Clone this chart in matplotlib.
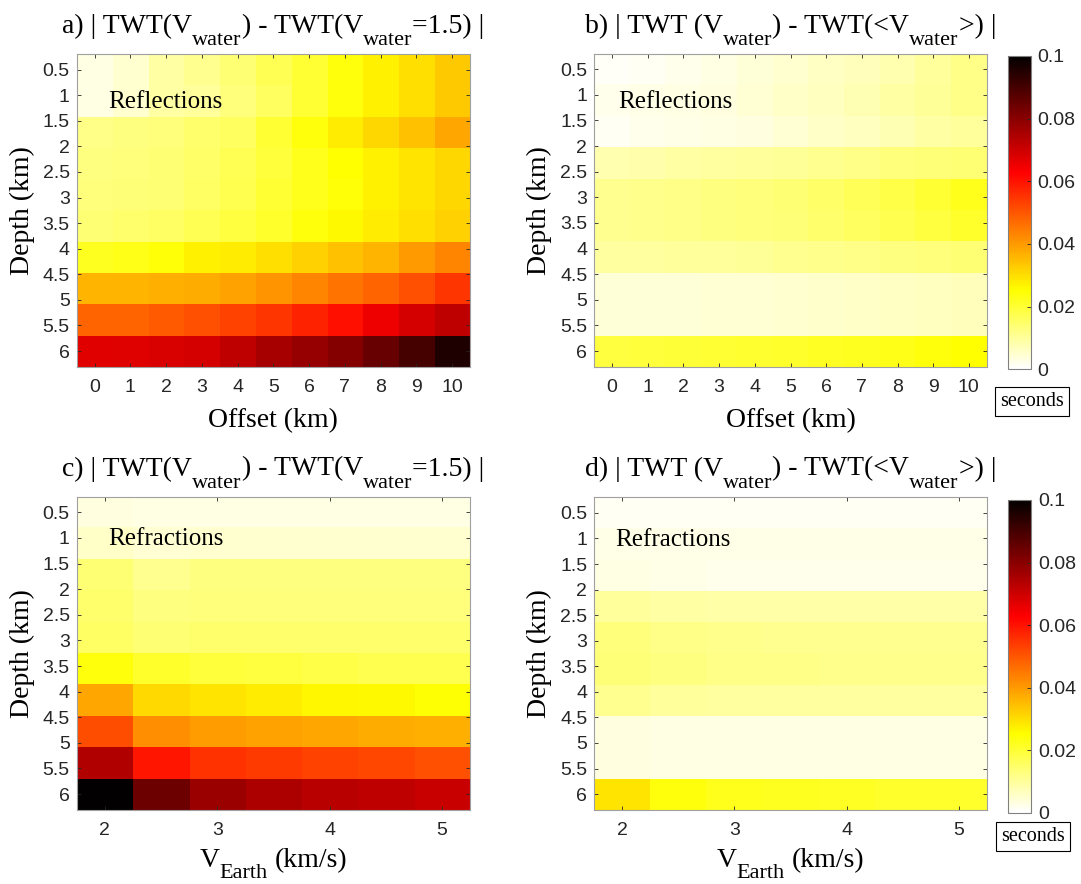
import numpy as np
import matplotlib
matplotlib.use("Agg")
import matplotlib.pyplot as plt
from matplotlib.colors import ListedColormap
from matplotlib.transforms import IdentityTransform

# ---------------- data ----------------
depth = [0.5, 1.1111, 1.7222, 2.3333, 2.9444, 3.5556, 4.1667, 4.7778, 5.3889, 6.0]
offset = [0, 1, 2, 3, 4, 5, 6, 7, 8, 9, 10]
v_earth = [2.0, 2.5, 3.0, 3.5, 4.0, 4.5, 5.0]

# a) reflections, |TWT(Vwater) - TWT(Vwater=1.5)|  (seconds)
refl_abs = [
    [0.003, 0.005, 0.009, 0.011, 0.014, 0.017, 0.020, 0.024, 0.027, 0.030, 0.033],
    [0.003, 0.005, 0.009, 0.010, 0.013, 0.016, 0.020, 0.024, 0.027, 0.030, 0.033],
    [0.012, 0.0125, 0.013, 0.0145, 0.016, 0.020, 0.024, 0.028, 0.031, 0.034, 0.038],
    [0.0125, 0.013, 0.014, 0.015, 0.017, 0.0195, 0.0225, 0.025, 0.027, 0.029, 0.031],
    [0.013, 0.0135, 0.014, 0.0155, 0.0175, 0.020, 0.0225, 0.0245, 0.027, 0.029, 0.031],
    [0.014, 0.0145, 0.0155, 0.017, 0.019, 0.021, 0.024, 0.026, 0.028, 0.030, 0.032],
    [0.022, 0.023, 0.0245, 0.027, 0.028, 0.030, 0.032, 0.034, 0.036, 0.040, 0.043],
    [0.036, 0.036, 0.037, 0.0375, 0.039, 0.041, 0.043, 0.0455, 0.048, 0.051, 0.055],
    [0.048, 0.048, 0.0495, 0.051, 0.053, 0.055, 0.0575, 0.0605, 0.065, 0.069, 0.072],
    [0.067, 0.0675, 0.068, 0.069, 0.072, 0.0755, 0.078, 0.0805, 0.085, 0.090, 0.0955],
]

# b) reflections, |TWT(Vwater) - TWT(<Vwater>)|
refl_mean = [
    [0.001, 0.0015, 0.002, 0.003, 0.004, 0.005, 0.006, 0.007, 0.008, 0.010, 0.012],
    [0.002, 0.0025, 0.003, 0.0035, 0.0045, 0.0055, 0.0065, 0.0075, 0.009, 0.0105, 0.012],
    [0.0015, 0.002, 0.0025, 0.003, 0.0035, 0.0045, 0.0055, 0.0065, 0.0075, 0.009, 0.010],
    [0.008, 0.0085, 0.009, 0.0095, 0.010, 0.0105, 0.011, 0.012, 0.013, 0.0135, 0.014],
    [0.011, 0.0115, 0.012, 0.0125, 0.013, 0.014, 0.015, 0.0165, 0.018, 0.020, 0.0225],
    [0.011, 0.0115, 0.012, 0.0125, 0.013, 0.0135, 0.0145, 0.016, 0.0175, 0.019, 0.021],
    [0.0095, 0.0095, 0.010, 0.010, 0.0105, 0.011, 0.0115, 0.012, 0.0125, 0.013, 0.014],
    [0.004, 0.004, 0.0042, 0.0044, 0.0046, 0.005, 0.0053, 0.0056, 0.006, 0.0065, 0.007],
    [0.004, 0.004, 0.0042, 0.0044, 0.0046, 0.005, 0.0053, 0.0056, 0.006, 0.0065, 0.007],
    [0.019, 0.0193, 0.0196, 0.020, 0.0205, 0.021, 0.0215, 0.022, 0.023, 0.024, 0.025],
]

# c) refractions, |TWT(Vwater) - TWT(Vwater=1.5)|
refr_abs = [
    [0.0035, 0.003, 0.003, 0.003, 0.003, 0.003, 0.003],
    [0.0055, 0.0045, 0.005, 0.005, 0.005, 0.005, 0.005],
    [0.014, 0.011, 0.0125, 0.0125, 0.0125, 0.0125, 0.0125],
    [0.0145, 0.0125, 0.013, 0.013, 0.013, 0.013, 0.013],
    [0.0155, 0.014, 0.0145, 0.0145, 0.0145, 0.0145, 0.0145],
    [0.024, 0.021, 0.0195, 0.019, 0.018, 0.0175, 0.0175],
    [0.038, 0.0305, 0.029, 0.028, 0.0265, 0.026, 0.0248],
    [0.0515, 0.0415, 0.0396, 0.039, 0.038, 0.0374, 0.037],
    [0.074, 0.0595, 0.0554, 0.054, 0.053, 0.052, 0.051],
    [0.1, 0.084, 0.0775, 0.075, 0.073, 0.072, 0.0705],
]

# d) refractions, |TWT(Vwater) - TWT(<Vwater>)|
refr_mean = [
    [0.0015, 0.0015, 0.0015, 0.0015, 0.0015, 0.0015, 0.0015],
    [0.0025, 0.0025, 0.0025, 0.0025, 0.0025, 0.0025, 0.0025],
    [0.003, 0.0025, 0.002, 0.002, 0.002, 0.002, 0.002],
    [0.010, 0.009, 0.0088, 0.0088, 0.0088, 0.0088, 0.0088],
    [0.013, 0.012, 0.0115, 0.011, 0.011, 0.011, 0.011],
    [0.0135, 0.0125, 0.012, 0.0118, 0.0115, 0.0115, 0.0115],
    [0.011, 0.010, 0.0095, 0.0095, 0.0095, 0.0095, 0.0095],
    [0.0035, 0.003, 0.003, 0.003, 0.0028, 0.0028, 0.0028],
    [0.0035, 0.003, 0.003, 0.003, 0.0028, 0.0028, 0.0028],
    [0.029, 0.024, 0.0225, 0.022, 0.0215, 0.021, 0.021],
]

depth_ticks = [0.5, 1, 1.5, 2, 2.5, 3, 3.5, 4, 4.5, 5, 5.5, 6]
offset_ticks = [0, 1, 2, 3, 4, 5, 6, 7, 8, 9, 10]
vel_ticks = [2, 3, 4, 5]
cbar_ticks = [0, 0.02, 0.04, 0.06, 0.08, 0.1]
cbar_labels = ["0", "0.02", "0.04", "0.06", "0.08", "0.1"]

# ---------------- style ----------------
SERIF = "Liberation Serif"
SANS = "Liberation Sans"
TXT = "#262626"
W, H = 1081, 884

# MATLAB-like flipud(hot(256))
m = 256
n1 = int(3 * m / 8)
n2 = n1
r = np.concatenate([np.arange(1, n1 + 1) / n1, np.ones(m - n1)])
g = np.concatenate([np.zeros(n1), np.arange(1, n2 + 1) / n2, np.ones(m - n1 - n2)])
b = np.concatenate([np.zeros(n1 + n2), np.arange(1, m - n1 - n2 + 1) / (m - n1 - n2)])
cmap = ListedColormap(np.stack([r, g, b], 1)[::-1])

fig = plt.figure(figsize=(W / 100, H / 100), dpi=100)


def rect(x0, y0, x1, y1):
    return [x0 / W, 1 - y1 / H, (x1 - x0) / W, (y1 - y0) / H]


def edges(c):
    c = np.asarray(c, float)
    s = c[1] - c[0]
    return c[0] - s / 2, c[-1] + s / 2


renderer = fig.canvas.get_renderer()


def rich(pieces, cx, by, size=20, subsize=16, drop=12):
    items = []
    x = 0.0
    for s, sub in pieces:
        fs = subsize if sub else size
        gap = 0.0
        if s.startswith(" "):
            s = s.lstrip(" ")
            gap = 0.25 * fs * 100 / 72
        t = fig.text(0, 0, s, fontsize=fs, family=SERIF, color="black",
                     transform=IdentityTransform(), ha="left", va="baseline")
        w = t.get_window_extent(renderer).width
        x += gap
        items.append((t, x, sub))
        x += w
    x0 = cx - x / 2
    for t, xo, sub in items:
        t.set_position((x0 + xo, H - (by + (drop if sub else 0))))


def panel(box, data, xc, xticks, title_pieces, title_y, xlabel_pieces, xlabel_y,
          note, note_xy, xl_drop=12):
    ax = fig.add_axes(rect(*box))
    x0, x1 = edges(xc)
    y0, y1 = edges(depth)
    im = ax.imshow(np.array(data), cmap=cmap, vmin=0, vmax=0.1,
                   extent=(x0, x1, y1, y0), origin="upper", aspect="auto",
                   interpolation="nearest")
    ax.set_xlim(x0, x1)
    ax.set_ylim(y1, y0)
    ax.set_xticks(xticks)
    ax.set_xticklabels([f"{t:g}" for t in xticks])
    ax.set_yticks(depth_ticks)
    ax.set_yticklabels([f"{t:g}" for t in depth_ticks])
    ax.tick_params(direction="in", length=3, width=0.6, color=TXT,
                   top=True, right=True, labelsize=14, labelcolor=TXT)
    ax.tick_params(axis="x", pad=9)
    ax.tick_params(axis="y", pad=5)
    for lab in ax.get_xticklabels() + ax.get_yticklabels():
        lab.set_family(SANS)
    for sp in ax.spines.values():
        sp.set_color("#a0a0a0")
        sp.set_linewidth(0.8)
    ax.text(note_xy[0], note_xy[1], note, family=SERIF, fontsize=18,
            ha="left", va="baseline", color="black")
    cx = (box[0] + box[2]) / 2
    cy = (box[1] + box[3]) / 2
    rich(title_pieces, cx, title_y)
    rich(xlabel_pieces, cx, xlabel_y, drop=xl_drop)
    fig.text((box[0] - 54.7) / W, 1 - cy / H, "Depth (km)", rotation=90,
             family=SERIF, fontsize=20, ha="center", va="center")
    return im


title_ac = [("a) | TWT(V", 0), ("water", 1), (") - TWT(V", 0), ("water", 1), ("=1.5) |", 0)]
title_bd = [("b) | TWT (V", 0), ("water", 1), (") - TWT(<V", 0), ("water", 1), (">) |", 0)]
xl_off = [("Offset (km)", 0)]
xl_vel = [("V", 0), ("Earth", 1), (" (km/s)", 0)]

panel((76.7, 54, 470, 366.7), refl_abs, offset, offset_ticks, title_ac, 33.3,
      xl_off, 426.7, "Reflections", (0.37, 1.256))
im_b = panel((594.3, 53.5, 986.7, 366.7), refl_mean, offset, offset_ticks, title_bd, 33.3,
             xl_off, 426.7, "Reflections", (0.17, 1.256))
panel((76.7, 496.7, 470, 809.7), refr_abs, v_earth, vel_ticks,
      [("c" + title_ac[0][0][1:], 0)] + title_ac[1:], 475.5,
      xl_vel, 867, "Refractions", (2.03, 1.138), xl_drop=11)
im_d = panel((594.3, 497.3, 986.7, 809.7), refr_mean, v_earth, vel_ticks,
             [("d" + title_bd[0][0][1:], 0)] + title_bd[1:], 475.5,
             xl_vel, 867, "Refractions", (1.94, 1.138), xl_drop=11)


def cbar(im, box, sec_xy):
    cax = fig.add_axes(rect(*box))
    cb = fig.colorbar(im, cax=cax, ticks=cbar_ticks)
    cb.set_ticklabels(cbar_labels)
    cax.tick_params(direction="in", length=3, width=0.6, color=TXT, pad=5,
                    labelsize=14, labelcolor=TXT)
    for lab in cax.get_yticklabels():
        lab.set_family(SANS)
    cb.outline.set_edgecolor("#808080")
    cb.outline.set_linewidth(0.8)
    fig.text(sec_xy[0] / W, 1 - sec_xy[1] / H, "seconds", family=SERIF,
             fontsize=14.5, ha="center", va="center",
             bbox=dict(boxstyle="square,pad=0.25", fc="white", ec="black", lw=0.8))


cbar(im_b, (1008, 56, 1030.5, 369.3), (1031.7, 401.3))
cbar(im_d, (1008.3, 500, 1031, 812.7), (1033.3, 836.7))

fig.savefig("out.png", dpi=100)
